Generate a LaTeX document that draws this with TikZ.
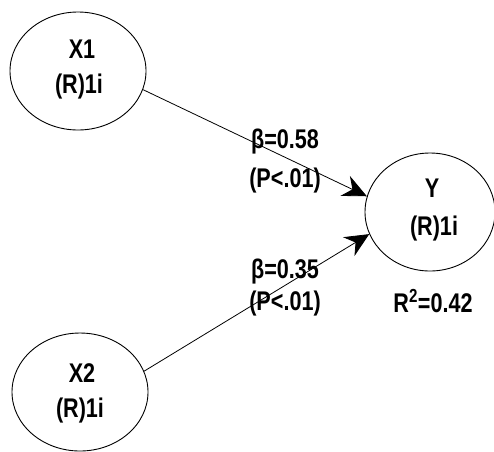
\documentclass[tikz,border=0pt]{standalone}
\usepackage{fontspec}
\setmainfont{Liberation Sans}[FakeStretch=0.8]
\usetikzlibrary{shapes.geometric,arrows.meta}
\begin{document}
\begin{tikzpicture}[x=1pt,y=-1pt,
  txt/.style={font=\bfseries\fontsize{27}{32}\selectfont,inner sep=0pt,anchor=base},
  lv/.style={ellipse,draw,line width=0.9pt,inner sep=0pt,minimum width=136pt,minimum height=118pt},
  path/.style={line width=0.8pt,-{Stealth[length=24pt,width=22pt,inset=8pt]}}]
\useasboundingbox (0,0) rectangle (494,451);
\node[lv] (x1) at (78,71) {};
\node[lv] (x2) at (80,392) {};
\node[lv,minimum width=130pt] (y) at (430,212) {};
\node[txt] (x1a) at (82,58) {X1};
\node[txt] (x1b) at (79,93) {(R)1i};
\node[txt] (x2a) at (82,382) {X2};
\node[txt] (x2b) at (80,417) {(R)1i};
\node[txt] (ya) at (432,197) {Y};
\node[txt] (yb) at (434,235) {(R)1i};
\draw[path] (x1.-16) -- (y.166);
\draw[path] (x2.18) -- (y.-160);
\node[txt] (l1a) at (285,148) {β=0.58};
\node[txt] (l1b) at (285,187) {(P<.01)};
\node[txt] (l2a) at (285,278) {β=0.35};
\node[txt] (l2b) at (285,310) {(P<.01)};
\node[txt] (r2) at (433,312) {R\textsuperscript{2}=0.42};
\end{tikzpicture}
\end{document}
